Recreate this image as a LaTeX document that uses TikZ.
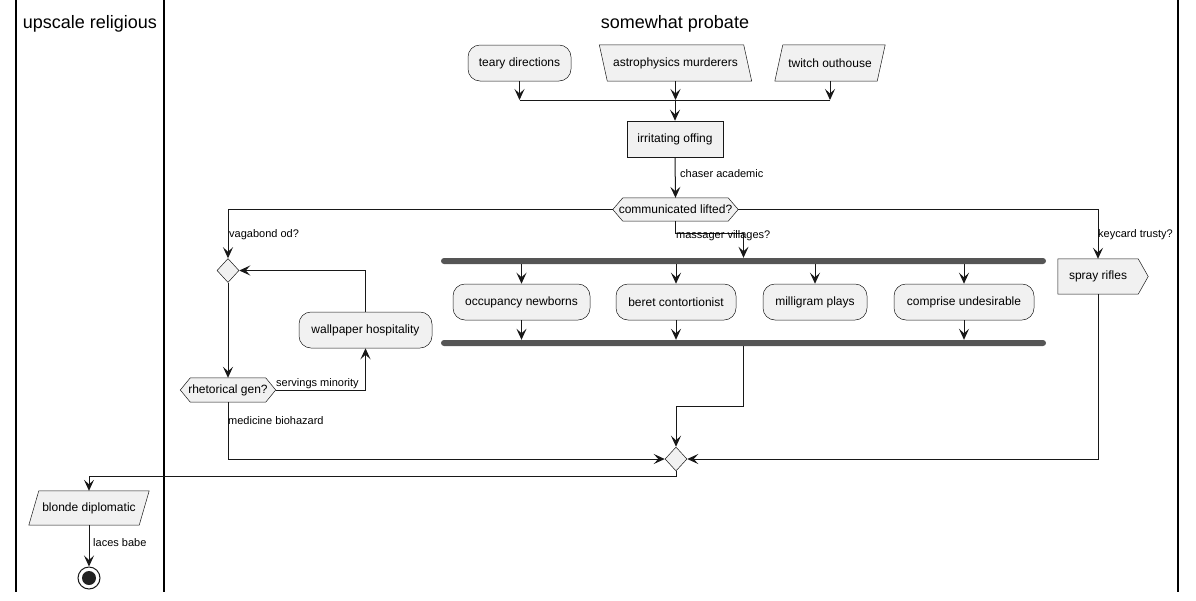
\documentclass[tikz,border=0pt]{standalone}
\usepackage{fontspec}
\setmainfont{Liberation Sans}
\usetikzlibrary{arrows.meta,shapes.geometric,calc}
\definecolor{cfill}{HTML}{F1F1F1}
\definecolor{cline}{HTML}{181818}
\definecolor{cbar}{HTML}{555555}
\definecolor{cdot}{HTML}{222222}
\pgfdeclarelayer{bg}
\pgfsetlayers{bg,main}
\begin{document}
\begin{tikzpicture}[x=1pt,y=-1pt,
  nodetxt/.style={font=\fontsize{12}{14}\selectfont, inner sep=0pt, text=black},
  act/.style={nodetxt, draw=cline, fill=cfill, line width=0.5pt, rounded corners=12pt, minimum height=36pt},
  rectbox/.style={nodetxt, draw=cline, fill=cfill, line width=0.5pt, minimum height=36pt},
  shp/.style={draw=cline, fill=cfill, line width=0.5pt},
  ghost/.style={nodetxt, minimum height=36pt},
  flow/.style={draw=cline, line width=1pt, -{Stealth[length=11pt,width=10pt,inset=4.5pt]}},
  wire/.style={draw=cline, line width=1pt},
  lbl/.style={font=\fontsize{11}{13}\selectfont, inner sep=0pt, anchor=west},
  barnode/.style={fill=cbar, rounded corners=3pt, minimum height=6pt, minimum width=605pt, inner sep=0pt},
  dia/.style={diamond, shp, minimum width=22pt, minimum height=24pt, inner sep=0pt},
  lanetitle/.style={font=\fontsize{18}{20}\selectfont, inner sep=0pt},
  lanerule/.style={draw=black, line width=1.5pt}
]
\useasboundingbox (0,0) rectangle (1196,600);

% swimlanes
\draw[lanerule] (16,0) -- (16,592);
\draw[lanerule] (164,0) -- (164,592);
\draw[lanerule] (1178,0) -- (1178,592);
\node[lanetitle] (t1) at (90,24) {upscale religious};
\node[lanetitle] (t2) at (675,24) {somewhat probate};

% start nodes
\node[act, minimum width=103pt] (teary) at (519.5,63) {teary directions};
\node[ghost, minimum width=144pt] (astro) at (675.5,63) {astrophysics murderers};
\node[ghost, minimum width=102pt] (twitch) at (830,63) {twitch outhouse};

\coordinate (jn) at (675,100);
\draw[flow] (teary.south) -- (teary.south |- jn);
\draw[flow] (astro.south) -- (astro.south |- jn);
\draw[flow] (twitch.south) -- (twitch.south |- jn);
\draw[wire] (teary.south |- jn) -- (twitch.south |- jn);

\node[rectbox, minimum width=96pt] (irr) at (675,139) {irritating offing};
\draw[flow] (jn) -- (irr.north);

\node[ghost, minimum width=125pt, minimum height=23pt] (h1) at (675.5,209.5) {communicated lifted?};
\draw[flow] (irr.south) -- (h1.north);
\node[lbl] (l1) at (680,174) {chaser academic};

% left branch
\node[dia] (d1) at (228,270.5) {};
\draw[flow] (h1.west) -| (d1.north);
\node[lbl] (l2) at (229,235) {vagabond od?};

\node[ghost, minimum width=95pt, minimum height=24pt] (rh) at (228,390) {rhetorical gen?};
\draw[flow] (d1.south) -- (rh.north);
\node[act, minimum width=133pt] (wall) at (365.5,330) {wallpaper hospitality};
\draw[flow] (rh.east) -| (wall.south);
\node[lbl, anchor=south west] (l3) at (276,389) {servings minority};
\draw[flow] (wall.north) |- (d1.east);

% right branch
\node[ghost, minimum width=80pt, minimum height=35pt] (spray) at (1098,276.5) {spray rifles};
\draw[flow] (h1.east) -| (spray.north);
\node[lbl] (l4) at (1098,235) {keycard trusty?};

% middle branch: fork
\node[barnode] (fork) at (743.5,261) {};
\draw[flow] (h1.south) -- ++(0,12) -| (fork.north);
\node[lbl] (l5) at (676,236) {massager villages?};

\node[act, minimum width=137pt] (occ) at (521.5,302) {occupancy newborns};
\node[act, minimum width=120pt] (beret) at (676,302) {beret contortionist};
\node[act, minimum width=104pt] (milli) at (815,302) {milligram plays};
\node[act, minimum width=140pt] (compr) at (964,302) {comprise undesirable};
\draw[flow] (fork.south -| occ.north) -- (occ.north);
\draw[flow] (fork.south -| beret.north) -- (beret.north);
\draw[flow] (fork.south -| milli.north) -- (milli.north);
\draw[flow] (fork.south -| compr.north) -- (compr.north);

\node[barnode] (join) at (743.5,343) {};
\draw[flow] (occ.south) -- (occ.south |- join.north);
\draw[flow] (beret.south) -- (beret.south |- join.north);
\draw[flow] (compr.south) -- (compr.south |- join.north);

% merge
\node[dia] (merge) at (676,459) {};
\draw[flow] (join.south) -- ++(0,60) -| (merge.north);
\draw[flow] (rh.south) |- (merge.west);
\node[lbl] (l6) at (228,421) {medicine biohazard};
\draw[flow] (spray.south) |- (merge.east);

% bottom
\node[ghost, minimum width=110pt, minimum height=34pt] (blonde) at (89,508) {blonde diplomatic};
\draw[flow] (merge.south) -- ++(0,5) -| (blonde.north);
\node[circle, draw=cline, fill=white, line width=1pt, minimum size=22pt, inner sep=0pt] (stop) at (89,578) {};
\node[circle, fill=cdot, minimum size=14pt, inner sep=0pt] (stopin) at (stop) {};
\draw[flow] (blonde.south) -- (stop.north);
\node[lbl] (l7) at (93,543) {laces babe};

% background shapes
\begin{pgfonlayer}{bg}
\path[shp] ([xshift=-4pt]astro.north west) -- ([xshift=-4pt]astro.north east) -- ([xshift=4pt]astro.south east) -- ([xshift=4pt]astro.south west) -- cycle;
\path[shp] ([xshift=4pt]twitch.north west) -- ([xshift=4pt]twitch.north east) -- ([xshift=-4pt]twitch.south east) -- ([xshift=-4pt]twitch.south west) -- cycle;
\path[shp] ([xshift=5pt]blonde.north west) -- ([xshift=5pt]blonde.north east) -- ([xshift=-5pt]blonde.south east) -- ([xshift=-5pt]blonde.south west) -- cycle;
\path[shp] (h1.west) -- ([xshift=10pt]h1.north west) -- ([xshift=-10pt]h1.north east) -- (h1.east) -- ([xshift=-10pt]h1.south east) -- ([xshift=10pt]h1.south west) -- cycle;
\path[shp] (rh.west) -- ([xshift=10pt]rh.north west) -- ([xshift=-10pt]rh.north east) -- (rh.east) -- ([xshift=-10pt]rh.south east) -- ([xshift=10pt]rh.south west) -- cycle;
\path[shp] (spray.north west) -- (spray.north east) -- ([xshift=10pt]spray.east) -- (spray.south east) -- (spray.south west) -- cycle;
\end{pgfonlayer}
\end{tikzpicture}
\end{document}
